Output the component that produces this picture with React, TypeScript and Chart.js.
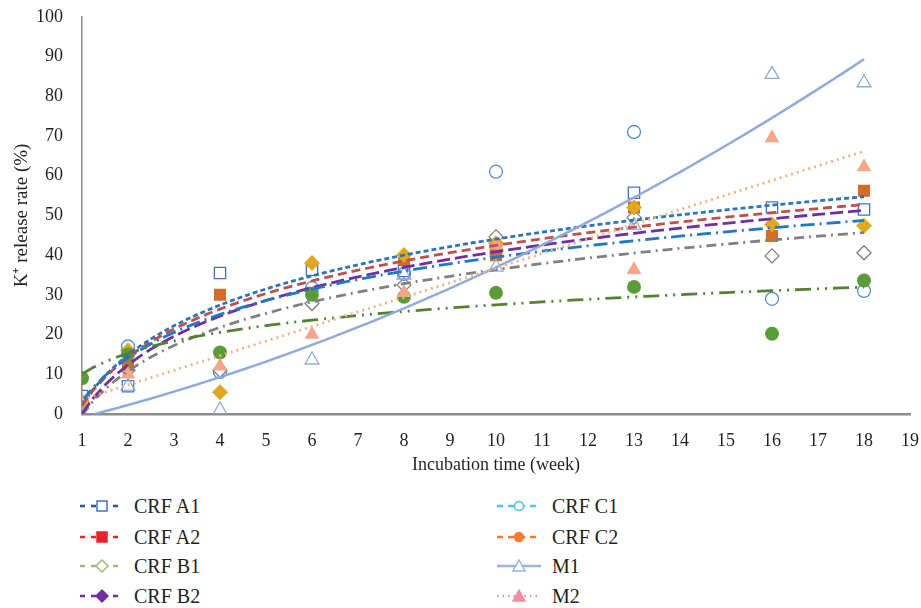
import React, { useEffect, useRef } from 'react';
import { Chart, registerables } from 'chart.js';
Chart.register(...registerables);

// ---- data ----
const weeks = [1, 2, 4, 6, 8, 10, 13, 16, 18];
const seriesNames = ['CRF A1', 'CRF A2', 'CRF B1', 'CRF B2', 'CRF C1', 'CRF C2', 'M1', 'M2'];
const crfA1 = [4.5, 7, 35.5, 36.3, 36, 41, 55.7, 52, 51.5];
const crfA2 = [3, 12.3, 30, 30.5, 39, 40, 52, 44.8, 56.2];
const crfB1 = [3, 11, 11, 27.8, 32.5, 44.6, 49.5, 39.8, 40.6];
const crfB2 = [3, 16, 5.5, 38, 40, 43, 52, 47.7, 47.4];
const crfC1 = [2, 17, 10.6, 31.7, 35.3, 61, 71, 29, 31];
const crfC2 = [9, 15, 15.5, 30, 29.5, 30.5, 32, 20.2, 33.6];
const m1 = [0, 7, 1, 13.6, 35, 37, 47.5, 85.5, 83.4];
const m2 = [3.5, 10, 12, 20, 30.5, 42.5, 36.3, 69.5, 62.2];
const trendTypes = ['log', 'log', 'log', 'log', 'log', 'log', 'poly2', 'linear'];
const xTickMin = 1;
const xTickMax = 19;
const yTickMin = 0;
const yTickMax = 100;

const allSeries = [crfA1, crfA2, crfB1, crfB2, crfC1, crfC2, m1, m2];

// ---- styles ----
const markerStyles = [
  { style: 'rect', color: '#4472C4', fill: false, r: 8 },
  { style: 'rect', color: '#D46B26', fill: true, r: 8.5 },
  { style: 'rectRot', color: '#7F7F7F', fill: false, r: 7 },
  { style: 'rectRot', color: '#E0A81E', fill: true, r: 8 },
  { style: 'circle', color: '#4F8FD0', fill: false, r: 6.5 },
  { style: 'circle', color: '#5B9B3A', fill: true, r: 7 },
  { style: 'triangle', color: '#8FAADC', fill: false, r: 8 },
  { style: 'triangle', color: '#F4A58A', fill: true, r: 8.5 },
];
const trendStyles = [
  { color: '#2E75B6', dash: [5, 3], w: 2.8 },
  { color: '#C0504D', dash: [9, 5], w: 2.8 },
  { color: '#808080', dash: [10, 5, 2, 5], w: 2.8 },
  { color: '#7030A0', dash: [13, 5], w: 2.8 },
  { color: '#1F78C8', dash: [14, 5, 2, 5], w: 2.8 },
  { color: '#548235', dash: [16, 6, 2, 6, 2, 6], w: 2.8 },
  { color: '#8FAADC', dash: [], w: 2.5 },
  { color: '#F4B183', dash: [2, 4], w: 2.8 },
];
const legendStyles = [
  { line: '#2F5597', dash: '5 6', marker: 'square', mColor: '#4472C4', fill: false },
  { line: '#E8232A', dash: '5 6', marker: 'square', mColor: '#E8232A', fill: true },
  { line: '#9BBB7F', dash: '5 6', marker: 'diamond', mColor: '#9BBB7F', fill: false },
  { line: '#7030A0', dash: '5 6', marker: 'diamond', mColor: '#7030A0', fill: true },
  { line: '#4DC3F0', dash: '6 5', marker: 'circle', mColor: '#4DC3F0', fill: false },
  { line: '#F47B30', dash: '6 5', marker: 'circle', mColor: '#F47B30', fill: true },
  { line: '#9DB3DE', dash: '', marker: 'triangle', mColor: '#9DB3DE', fill: false },
  { line: '#F08FA0', dash: '1.5 4', marker: 'triangle', mColor: '#F08FA0', fill: true },
];

// ---- least squares fits ----
function fitLog(xs: number[], ys: number[]) {
  const lx = xs.map((x) => Math.log(x));
  const n = xs.length;
  const mx = lx.reduce((a, b) => a + b, 0) / n;
  const my = ys.reduce((a, b) => a + b, 0) / n;
  let sxy = 0, sxx = 0;
  for (let i = 0; i < n; i++) { sxy += (lx[i] - mx) * (ys[i] - my); sxx += (lx[i] - mx) ** 2; }
  const a = sxy / sxx;
  const b = my - a * mx;
  return (x: number) => a * Math.log(x) + b;
}
function fitLinear(xs: number[], ys: number[]) {
  const n = xs.length;
  const mx = xs.reduce((a, b) => a + b, 0) / n;
  const my = ys.reduce((a, b) => a + b, 0) / n;
  let sxy = 0, sxx = 0;
  for (let i = 0; i < n; i++) { sxy += (xs[i] - mx) * (ys[i] - my); sxx += (xs[i] - mx) ** 2; }
  const a = sxy / sxx;
  const b = my - a * mx;
  return (x: number) => a * x + b;
}
function fitPoly2(xs: number[], ys: number[]) {
  const S = [0, 0, 0, 0, 0];
  const T = [0, 0, 0];
  for (let i = 0; i < xs.length; i++) {
    for (let k = 0; k < 5; k++) S[k] += xs[i] ** k;
    for (let k = 0; k < 3; k++) T[k] += ys[i] * xs[i] ** k;
  }
  const M = [
    [S[0], S[1], S[2], T[0]],
    [S[1], S[2], S[3], T[1]],
    [S[2], S[3], S[4], T[2]],
  ];
  for (let c = 0; c < 3; c++) {
    for (let r = c + 1; r < 3; r++) {
      const f = M[r][c] / M[c][c];
      for (let k = c; k < 4; k++) M[r][k] -= f * M[c][k];
    }
  }
  const coef = [0, 0, 0];
  for (let r = 2; r >= 0; r--) {
    let s = M[r][3];
    for (let k = r + 1; k < 3; k++) s -= M[r][k] * coef[k];
    coef[r] = s / M[r][r];
  }
  return (x: number) => coef[0] + coef[1] * x + coef[2] * x * x;
}
function trendPoints(type: string, ys: number[]) {
  const f = type === 'log' ? fitLog(weeks, ys) : type === 'poly2' ? fitPoly2(weeks, ys) : fitLinear(weeks, ys);
  const x0 = weeks[0];
  const x1 = weeks[weeks.length - 1];
  const pts: { x: number; y: number }[] = [];
  const steps = 68;
  for (let i = 0; i <= steps; i++) {
    const x = x0 + ((x1 - x0) * i) / steps;
    pts.push({ x, y: f(x) });
  }
  return pts;
}

const FONT = "'Liberation Serif', 'Times New Roman', serif";
const TEXT = '#231F20';

function LegendIcon({ s }: { s: (typeof legendStyles)[number] }) {
  const w = 44, h = 16, cy = 8, cx = 22;
  let marker: React.ReactNode = null;
  const fill = s.fill ? s.mColor : '#fff';
  if (s.marker === 'square') marker = <rect x={cx - 5} y={cy - 5} width={10} height={10} fill={fill} stroke={s.mColor} strokeWidth={1.5} />;
  if (s.marker === 'diamond') marker = <polygon points={`${cx},${cy - 6} ${cx + 6},${cy} ${cx},${cy + 6} ${cx - 6},${cy}`} fill={fill} stroke={s.mColor} strokeWidth={1.5} />;
  if (s.marker === 'circle') marker = <circle cx={cx} cy={cy} r={4.5} fill={fill} stroke={s.mColor} strokeWidth={1.5} />;
  if (s.marker === 'triangle') marker = <polygon points={`${cx},${cy - 6} ${cx + 6},${cy + 5} ${cx - 6},${cy + 5}`} fill={fill} stroke={s.mColor} strokeWidth={1.5} />;
  return (
    <svg width={w} height={h} style={{ display: 'block' }}>
      <line x1={0} y1={cy} x2={w} y2={cy} stroke={s.line} strokeWidth={2.5} strokeDasharray={s.dash || undefined} />
      {marker}
    </svg>
  );
}

export default function App() {
  const ref = useRef<HTMLCanvasElement | null>(null);
  useEffect(() => {
    if (!ref.current) return;
    const trendSets = allSeries.map((ys, i) => ({
      label: seriesNames[i] + ' trend',
      data: trendPoints(trendTypes[i], ys),
      showLine: true,
      borderColor: trendStyles[i].color,
      borderWidth: trendStyles[i].w,
      borderDash: trendStyles[i].dash,
      pointRadius: 0,
      fill: false,
      tension: 0,
      order: 8 - i,
    }));
    const markerSets = allSeries.map((ys, i) => ({
      label: seriesNames[i],
      data: weeks.map((x, j) => ({ x, y: ys[j] })),
      showLine: false,
      pointStyle: markerStyles[i].style,
      pointRadius: markerStyles[i].r,
      pointBorderColor: markerStyles[i].color,
      pointBackgroundColor: markerStyles[i].fill ? markerStyles[i].color : 'rgba(255,255,255,0)',
      pointBorderWidth: markerStyles[i].fill ? 0 : 1.3,
      order: 20 - i,
    }));
    const chart = new Chart(ref.current, {
      type: 'scatter',
      data: { datasets: [...trendSets, ...markerSets] as any },
      options: {
        responsive: false,
        animation: false,
        layout: { padding: { top: 2, right: -3, left: 0, bottom: 0 } },
        plugins: { legend: { display: false }, tooltip: { enabled: false } },
        scales: {
          x: {
            type: 'linear',
            min: xTickMin,
            max: xTickMax,
            afterFit: (s: any) => { s.height = 68; },
            grid: { display: false, drawTicks: false },
            border: { display: true, color: '#8C8C8C', width: 2.5 },
            ticks: { stepSize: 1, padding: 16, color: TEXT, font: { family: FONT, size: 18 } },
            title: { display: true, text: 'Incubation time (week)', color: TEXT, font: { family: FONT, size: 18 }, padding: { top: 0, bottom: 6 } },
          },
          y: {
            type: 'linear',
            min: yTickMin,
            max: yTickMax,
            afterFit: (s: any) => { s.width = 82; },
            grid: { display: false, drawTicks: false },
            border: { display: true, color: '#8C8C8C', width: 1.5 },
            ticks: { stepSize: 10, padding: 19, color: TEXT, font: { family: FONT, size: 18 } },
            title: { display: true, text: 'K\u207A release rate (%)', color: TEXT, font: { family: FONT, size: 19 }, padding: { top: 11, bottom: 0 } },
          },
        },
      },
    });
    return () => chart.destroy();
  }, []);

  const rowsY = [506, 537, 566, 596];
  return (
    <div style={{ position: 'absolute', left: 0, top: 0, width: 921, height: 608, background: '#fff', overflow: 'hidden' }}>
      <canvas ref={ref} width={935} height={495} style={{ position: 'absolute', left: 0, top: -13 }} />
      {seriesNames.map((name, i) => {
        const col = i < 4 ? 0 : 1;
        const row = i % 4;
        const iconX = col === 0 ? 80 : 497;
        const textX = col === 0 ? 134 : 552;
        return (
          <React.Fragment key={name}>
            <div style={{ position: 'absolute', left: iconX, top: rowsY[row] - 8 }}>
              <LegendIcon s={legendStyles[i]} />
            </div>
            <div style={{ position: 'absolute', left: textX, top: rowsY[row] - 13, fontFamily: FONT, fontSize: 20, lineHeight: '26px', color: TEXT, whiteSpace: 'nowrap' }}>
              {name}
            </div>
          </React.Fragment>
        );
      })}
    </div>
  );
}
